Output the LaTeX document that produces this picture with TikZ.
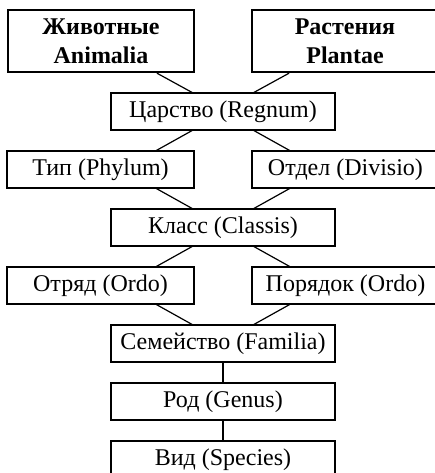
\documentclass[tikz,border=0pt]{standalone}
\usepackage{fontspec}
\setmainfont{Liberation Serif}
\begin{document}
\begin{tikzpicture}[x=0.5pt,y=-0.5pt,
        taxon/.style={draw,line width=0.6pt,minimum width=112pt,minimum height=18.5pt,
            inner sep=0pt,font=\fontsize{12}{14.5}\selectfont},
        side/.style={taxon,minimum width=93.5pt},
        kingdom/.style={draw,line width=1.2pt,minimum width=93pt,minimum height=31pt,
            inner sep=0pt,align=center,font=\fontsize{12}{14.5}\selectfont\bfseries},
        link/.style={line width=0.6pt}
    ]
        \useasboundingbox (0,0) rectangle (435,473);
        \node[kingdom] (anim) at (101,41) {Животные\\Animalia};
        \node[kingdom] (plant) at (345,41) {Растения\\Plantae};
        \node[taxon] (regnum) at (223,111.5) {Царство (Regnum)};
        \node[side] (phylum) at (100.5,169.5) {Тип (Phylum)};
        \node[side] (divisio) at (345.5,169.5) {Отдел (Divisio)};
        \node[taxon] (classis) at (223,227.5) {Класс (Classis)};
        \node[side] (ordoL) at (100.5,285.5) {Отряд (Ordo)};
        \node[side] (ordoR) at (345.5,285.5) {Порядок (Ordo)};
        \node[taxon] (familia) at (223,343.5) {Семейство (Familia)};
        \node[taxon] (genus) at (223,401.5) {Род (Genus)};
        \node[taxon] (species) at (223,459.5) {Вид (Species)};
        \draw[link] ([xshift=28pt]anim.south) -- ([xshift=-15.5pt]regnum.north);
        \draw[link] ([xshift=-28pt]plant.south) -- ([xshift=15.5pt]regnum.north);
        \draw[link] ([xshift=-15.5pt]regnum.south) -- ([xshift=28pt]phylum.north);
        \draw[link] ([xshift=15.5pt]regnum.south) -- ([xshift=-28pt]divisio.north);
        \draw[link] ([xshift=28pt]phylum.south) -- ([xshift=-15.5pt]classis.north);
        \draw[link] ([xshift=-28pt]divisio.south) -- ([xshift=15.5pt]classis.north);
        \draw[link] ([xshift=-15.5pt]classis.south) -- ([xshift=28pt]ordoL.north);
        \draw[link] ([xshift=15.5pt]classis.south) -- ([xshift=-28pt]ordoR.north);
        \draw[link] ([xshift=28pt]ordoL.south) -- ([xshift=-15.5pt]familia.north);
        \draw[link] ([xshift=-28pt]ordoR.south) -- ([xshift=15.5pt]familia.north);
        \draw[link] (familia) -- (genus);
        \draw[link] (genus) -- (species);
    \end{tikzpicture}
\end{document}
